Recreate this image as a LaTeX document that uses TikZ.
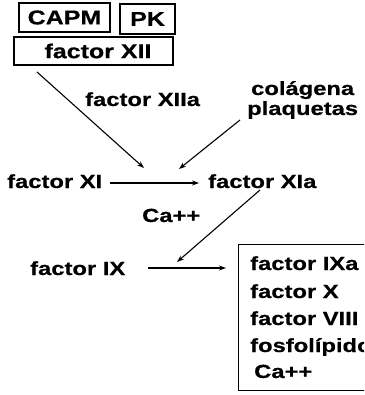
\documentclass[tikz,border=0pt]{standalone}
\usepackage{fontspec}
\newfontfamily\labfont{Liberation Sans}[FakeStretch=1.25,FakeBold=0.6]
\usetikzlibrary{arrows.meta}
\tikzset{
  lbl/.style={anchor=base west, inner sep=0pt, font=\labfont\bfseries\fontsize{19}{21}\selectfont},
  hbox/.style={draw, line width=1.3pt, inner sep=0pt, font=\labfont\bfseries\fontsize{20}{22}\selectfont},
  flow/.style={line width=1.1pt, -{Stealth[length=7pt,width=5pt]}},
}
\begin{document}
\begin{tikzpicture}[x=1pt,y=-1pt]
  \clip (0,0) rectangle (364,395);
  \fill[white] (0,0) rectangle (364,395);

  % contact factors
  \node[hbox, minimum width=91pt, minimum height=29pt] (capm) at (64.5,17.5) {CAPM};
  \node[hbox, minimum width=55pt, minimum height=30pt] (pk) at (147.5,19) {PK};
  \node[hbox, minimum width=159pt, minimum height=28pt] (fxii) at (93.5,51) {\hspace{9pt}factor XII};

  % labels
  \node[lbl] (fxiia) at (85,106) {factor XIIa};
  \node[lbl] (cola) at (251,95) {colágena};
  \node[lbl] (plaq) at (247,115) {plaquetas};
  \node[lbl] (fxi) at (7,188) {factor XI};
  \node[lbl] (fxia) at (208,188) {factor XIa};
  \node[lbl] (ca) at (142,222) {Ca++};
  \node[lbl] (fix) at (30,275) {factor IX};

  % tenase complex
  \node[draw, line width=1.3pt, anchor=north west, minimum width=140pt, minimum height=146pt, inner sep=0pt] (cplx) at (238,244) {};
  \node[lbl] (l1) at (250,270) {factor IXa};
  \node[lbl] (l2) at (250,298) {factor X};
  \node[lbl] (l3) at (250,325) {factor VIII};
  \node[lbl] (l4) at (250,352) {fosfolípidos};
  \node[lbl] (l5) at (254,378) {Ca++};

  % connector end points
  \coordinate (a1) at (37,72);
  \coordinate (a2) at (144,168);
  \coordinate (b1) at (240,120);
  \coordinate (b2) at (179,169);
  \coordinate (c1) at (110,183);
  \coordinate (c2) at (199,183);
  \coordinate (d1) at (260,190);
  \coordinate (d2) at (177,262);
  \coordinate (e1) at (148,268);
  \coordinate (e2) at (226,268);

  \draw[flow] (a1) -- (a2);
  \draw[flow] (b1) -- (b2);
  \draw[flow] (c1) -- (c2);
  \draw[flow] (d1) -- (d2);
  \draw[flow] (e1) -- (e2);
\end{tikzpicture}
\end{document}
